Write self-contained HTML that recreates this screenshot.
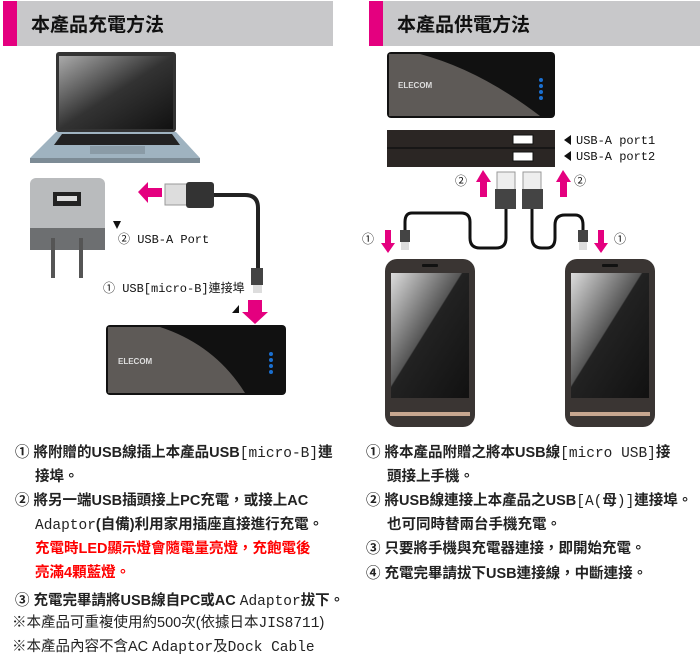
<!DOCTYPE html>
<html><head><meta charset="utf-8"><style>
body{margin:0;width:700px;height:663px;background:#fff;position:relative;overflow:hidden;font-family:"Liberation Sans","Noto Sans CJK TC",sans-serif}
.h{position:absolute;top:1px;height:45px;background:#c8c8ca}
.h i{position:absolute;left:0;top:0;width:14px;height:45px;background:#e4007f}
.h span{position:absolute;left:28px;top:9px;font-size:19px;font-weight:bold;color:#111}
.t{position:absolute;font-size:14.5px;font-weight:bold;color:#222;line-height:24px;white-space:nowrap}
.m{font-family:"Liberation Mono","Noto Sans CJK TC",monospace;font-weight:normal}
.red{color:#f00}
svg{position:absolute;left:0;top:0}
.lbl{font-family:"Liberation Mono","Noto Sans CJK TC",monospace;font-size:12px;fill:#111}
</style></head><body>
<div class="h" style="left:3px;width:330px"><i></i><span>本產品充電方法</span></div>
<div class="h" style="left:369px;width:331px"><i></i><span>本產品供電方法</span></div>
<svg width="700" height="430" viewBox="0 0 700 430">
<defs>
<linearGradient id="scr" x1="0" y1="0" x2="1" y2="1"><stop offset="0" stop-color="#aaa"/><stop offset=".5" stop-color="#333"/><stop offset="1" stop-color="#111"/></linearGradient>
<linearGradient id="ph" x1="0" y1="0" x2="1" y2="1"><stop offset="0" stop-color="#ddd"/><stop offset=".45" stop-color="#555"/><stop offset=".46" stop-color="#222"/><stop offset="1" stop-color="#111"/></linearGradient>
</defs>
<!-- laptop -->
<rect x="56" y="52" width="120" height="80" rx="3" fill="#333"/>
<rect x="59" y="56" width="114" height="73" fill="url(#scr)"/>
<path d="M56 132 L176 132 L200 158 L30 158 Z" fill="#9fb3c0"/>
<path d="M62 134 L172 134 L180 145 L54 145 Z" fill="#222"/>
<rect x="90" y="146" width="55" height="8" fill="#8a9ba6"/>
<rect x="30" y="158" width="170" height="5" fill="#7c8b95"/>
<!-- adapter -->
<rect x="30" y="178" width="75" height="70" rx="6" fill="#b9bbbd"/>
<rect x="30" y="228" width="75" height="22" fill="#6d6f71"/>
<rect x="53" y="192" width="28" height="14" fill="#222"/><rect x="57" y="196" width="20" height="5" fill="#ddd"/>
<rect x="51" y="238" width="4" height="40" fill="#555"/><rect x="79" y="238" width="4" height="40" fill="#555"/>
<!-- left cable -->
<path d="M138 192 L148 182 L148 188 L162 188 L162 197 L148 197 L148 203 Z" fill="#e4007f"/>
<rect x="165" y="184" width="22" height="21" fill="#ddd" stroke="#999"/>
<rect x="186" y="182" width="28" height="26" rx="3" fill="#333"/>
<path d="M214 195 L245 195 Q258 195 258 208 L258 270" stroke="#222" stroke-width="4" fill="none"/>
<rect x="251" y="268" width="12" height="17" fill="#444"/>
<rect x="253" y="285" width="9" height="8" fill="#ddd"/>
<path d="M248 300 L248 312 L242 312 L255 324 L268 312 L262 312 L262 300 Z" fill="#e4007f"/>
<path d="M113 221 L121 221 L117 229 Z" fill="#111"/>
<path d="M232 313 L239 305 L239 313 Z" fill="#111"/>
<text x="118" y="243" class="lbl">② USB-A Port</text>
<text x="103" y="292" class="lbl">① USB[micro-B]連接埠</text>
<!-- power bank left -->
<rect x="106" y="325" width="180" height="70" rx="4" fill="#111"/>
<path d="M108 327 L160 327 Q215 345 245 393 L108 393 Z" fill="#5e5a57"/>
<text x="118" y="364" font-size="8" font-weight="bold" fill="#ddd" font-family="Liberation Sans">ELECOM</text>
<g fill="#1a6fd0"><circle cx="271" cy="354" r="2"/><circle cx="271" cy="360" r="2"/><circle cx="271" cy="366" r="2"/><circle cx="271" cy="372" r="2"/></g>
<!-- power bank right top -->
<rect x="387" y="52" width="168" height="66" rx="4" fill="#111"/>
<path d="M389 54 L420 54 Q480 70 540 116 L389 116 Z" fill="#5e5a57"/>
<text x="398" y="88" font-size="8" font-weight="bold" fill="#ddd" font-family="Liberation Sans">ELECOM</text>
<g fill="#1a6fd0"><circle cx="541" cy="80" r="2"/><circle cx="541" cy="86" r="2"/><circle cx="541" cy="92" r="2"/><circle cx="541" cy="98" r="2"/></g>
<!-- side view -->
<rect x="387" y="130" width="168" height="37" fill="#2b2624"/>
<line x1="387" y1="148" x2="555" y2="148" stroke="#111" stroke-width="1.5"/>
<rect x="513" y="135" width="20" height="9" fill="#fff" stroke="#111"/>
<rect x="513" y="152" width="20" height="9" fill="#fff" stroke="#111"/>
<path d="M564 140 L571 135 L571 145 Z" fill="#111"/><path d="M564 156 L571 151 L571 161 Z" fill="#111"/>
<text x="576" y="144" class="lbl">USB-A port1</text>
<text x="576" y="160" class="lbl">USB-A port2</text>
<!-- up arrows -->
<path d="M483 170 L476 182 L480 182 L480 197 L487 197 L487 182 L491 182 Z" fill="#e4007f"/>
<path d="M563 170 L556 182 L560 182 L560 197 L567 197 L567 182 L571 182 Z" fill="#e4007f"/>
<text x="455" y="185" class="lbl">②</text><text x="574" y="185" class="lbl">②</text>
<!-- plugs -->
<rect x="497" y="172" width="18" height="18" fill="#eee" stroke="#999"/><rect x="495" y="189" width="21" height="20" fill="#444"/>
<rect x="523" y="172" width="18" height="18" fill="#eee" stroke="#999"/><rect x="522" y="189" width="21" height="20" fill="#444"/>
<path d="M506 209 L506 238 Q506 248 496 248 L480 248 Q470 248 470 238 L470 222 Q470 213 461 213 L412 213 Q405 213 405 222 L405 232" stroke="#111" stroke-width="3" fill="none"/>
<path d="M532 209 L532 238 Q532 248 542 248 L547 248 Q555 248 555 238 L555 225 Q555 215 565 215 L575 215 Q583 215 583 225 L583 232" stroke="#111" stroke-width="3" fill="none"/>
<rect x="400" y="230" width="10" height="12" fill="#444"/><rect x="401" y="242" width="8" height="8" fill="#ddd"/>
<rect x="578" y="230" width="10" height="12" fill="#444"/><rect x="579" y="242" width="8" height="8" fill="#ddd"/>
<path d="M385 230 L385 243 L381 243 L388 253 L395 243 L391 243 L391 230 Z" fill="#e4007f"/>
<path d="M598 230 L598 243 L594 243 L601 253 L608 243 L604 243 L604 230 Z" fill="#e4007f"/>
<text x="362" y="243" class="lbl">①</text><text x="614" y="243" class="lbl">①</text>
<!-- phones -->
<g>
<rect x="385" y="259" width="90" height="168" rx="12" fill="#3a3533"/>
<rect x="391" y="273" width="78" height="125" fill="url(#ph)"/>
<rect x="422" y="264" width="16" height="3" rx="1" fill="#111"/>
<rect x="390" y="412" width="80" height="4" fill="#c7a790"/>
<rect x="565" y="259" width="90" height="168" rx="12" fill="#3a3533"/>
<rect x="571" y="273" width="78" height="125" fill="url(#ph)"/>
<rect x="602" y="264" width="16" height="3" rx="1" fill="#111"/>
<rect x="570" y="412" width="80" height="4" fill="#c7a790"/>
</g>
</svg>
<div class="t" style="left:15px;top:441px">① 將附贈的USB線插上本產品USB<span class="m">[micro-B]</span>連</div>
<div class="t" style="left:35px;top:465px">接埠。</div>
<div class="t" style="left:15px;top:489px">② 將另一端USB插頭接上PC充電，或接上AC</div>
<div class="t" style="left:35px;top:513px"><span class="m">Adaptor</span>(自備)利用家用插座直接進行充電。</div>
<div class="t red" style="left:35px;top:537px">充電時LED顯示燈會隨電量亮燈，充飽電後</div>
<div class="t red" style="left:35px;top:561px">亮滿4顆藍燈。</div>
<div class="t" style="left:15px;top:589px">③ 充電完畢請將USB線自PC或AC <span class="m">Adaptor</span>拔下。</div>
<div class="t" style="left:12px;top:611px;font-weight:normal">※本產品可重複使用約500次(依據日本<span class="m">JIS8711</span>)</div>
<div class="t" style="left:12px;top:635px;font-weight:normal">※本產品內容不含AC <span class="m">Adaptor</span>及<span class="m">Dock Cable</span></div>
<div class="t" style="left:366px;top:441px">① 將本產品附贈之將本USB線<span class="m">[micro USB]</span>接</div>
<div class="t" style="left:387px;top:465px">頭接上手機。</div>
<div class="t" style="left:366px;top:489px">② 將USB線連接上本產品之USB<span class="m">[A(</span>母<span class="m">)]</span>連接埠。</div>
<div class="t" style="left:387px;top:513px">也可同時替兩台手機充電。</div>
<div class="t" style="left:366px;top:537px">③ 只要將手機與充電器連接，即開始充電。</div>
<div class="t" style="left:366px;top:562px">④ 充電完畢請拔下USB連接線，中斷連接。</div>
</body></html>
